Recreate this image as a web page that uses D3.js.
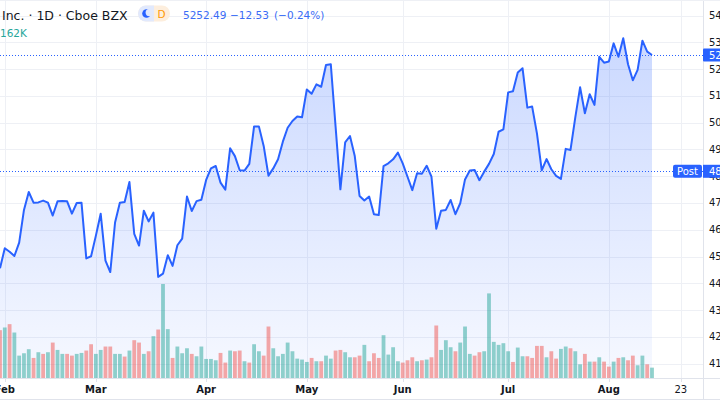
<!DOCTYPE html>
<html>
<head>
<meta charset="utf-8">
<script src="https://cdn.jsdelivr.net/npm/d3@7"></script>
<style>
  html, body { margin: 0; padding: 0; background: #ffffff; overflow: hidden; }
  svg { display: block; font-family: "DejaVu Sans", sans-serif; }
</style>
</head>
<body>
<svg id="chart" width="720" height="400"></svg>
<script>
// ---- Data ----
const closes = [
  4456,4531,4518,4502,4552,4674,4741,4701,4702,4709,
  4701,4653,4706,4707,4706,4660,4700,4701,4493,4501,
  4578,4660,4485,4442,4627,4701,4704,4778,4585,4541,
  4671,4631,4664,4424,4436,4505,4465,4542,4567,4724,
  4670,4707,4712,4786,4829,4838,4776,4750,4904,4875,
  4822,4821,4846,4986,4986,4913,4802,4829,4863,4929,
  4981,5006,5023,5020,5124,5108,5143,5134,5215,5218,
  4985,4751,4926,4950,4875,4726,4709,4724,4658,4655,
  4838,4848,4863,4888,4848,4798,4748,4811,4809,4839,
  4798,4604,4671,4674,4711,4658,4699,4788,4821,4823,
  4785,4817,4846,4883,4966,4975,5113,5117,5187,5203,
  5056,5060,4960,4822,4864,4826,4801,4790,4902,4898,
  5020,5132,5035,5106,5066,5246,5224,5228,5296,5246,
  5315,5218,5158,5197,5306,5265,5252.49
];

const volumes = [ // thousands
  748,790,842,711,350,387,450,314,403,377,
  403,554,439,377,377,350,377,392,429,528,
  377,439,492,492,377,377,335,429,591,554,
  377,418,654,758,1470,764,314,492,387,465,
  377,340,492,298,298,277,392,241,429,418,
  429,262,241,528,418,350,805,465,340,377,
  554,418,303,288,251,314,262,262,350,303,
  429,439,403,324,324,350,518,262,387,314,
  669,366,481,262,241,277,324,262,277,288,
  324,821,439,591,481,418,554,805,377,350,
  403,418,1323,565,518,544,418,251,476,340,
  340,314,502,502,324,418,303,455,492,465,
  418,214,377,256,256,324,256,178,256,314,
  324,277,350,199,350,214,162
];

const volumeDirection = [
  "d","u","d","u","u","u","u","d","u","d",
  "u","d","u","u","d","d","u","u","d","d",
  "u","u","d","d","u","u","d","u","d","d",
  "u","d","u","d","u","u","d","u","u","u",
  "d","u","u","u","u","u","d","d","u","d",
  "d","u","d","u","u","d","d","u","u","u",
  "u","u","u","u","u","d","u","d","u","u",
  "d","d","u","u","d","d","u","d","d","d",
  "u","u","u","u","d","d","d","u","d","u",
  "d","d","u","u","u","d","u","u","u","d",
  "d","u","u","u","u","u","u","d","u","u",
  "d","d","d","d","u","d","d","u","u","d",
  "u","u","d","u","d","u","d","d","u","d",
  "u","d","d","u","u","d","u"
];

const timeTickLabels = ["Feb","Mar","Apr","May","Jun","Jul","Aug","23"];
const timeTickIndex  = [1, 20, 43, 64, 84, 106, 127, 142];
const timeTickBold   = [true,true,true,true,true,true,true,false];

const priceTicks = [4100,4200,4300,4400,4500,4600,4700,4800,4900,5000,5100,5200,5300,5400];

const lastPrice = 5252.49;
const postPrice = 4818.30;
const headerTitle = "Inc. · 1D · Cboe BZX";
const headerQuote = ["5252.49", "−12.53", "(−0.24%)"];
const headerVolume = "162K";

// ---- Layout ----
const W = 720, H = 400;
const plotRight = 703, plotBottom = 378;

const svg = d3.select("#chart");

const x = d3.scaleLinear().domain([0, closes.length - 1]).range([0, 652]);
const y = d3.scaleLinear().domain([4400, 5300]).range([283.3, 42.3]);
const yVol = d3.scaleLinear().domain([0, d3.max(volumes)]).range([plotBottom, 284]);

svg.append("rect").attr("width", W).attr("height", H).attr("fill", "#ffffff");

const defs = svg.append("defs");
const grad = defs.append("linearGradient").attr("id", "areaGrad")
  .attr("gradientUnits", "userSpaceOnUse")
  .attr("x1", 0).attr("x2", 0).attr("y1", 30).attr("y2", plotBottom);
grad.append("stop").attr("offset", 0).attr("stop-color", "rgba(41,98,255,0.25)");
grad.append("stop").attr("offset", 1).attr("stop-color", "rgba(41,98,255,0.04)");

const clip = defs.append("clipPath").attr("id", "plotClip");
clip.append("rect").attr("x", 0).attr("y", 0).attr("width", plotRight).attr("height", plotBottom);

// Grid
const grid = svg.append("g").attr("stroke", "#eef0f5").attr("stroke-width", 1);
grid.selectAll("line.h").data(priceTicks).join("line")
  .attr("x1", 0).attr("x2", plotRight)
  .attr("y1", d => Math.round(y(d)) + 0.5).attr("y2", d => Math.round(y(d)) + 0.5);
grid.selectAll("line.v").data(timeTickIndex).join("line")
  .attr("x1", d => Math.round(x(d)) + 0.5).attr("x2", d => Math.round(x(d)) + 0.5)
  .attr("y1", 0).attr("y2", plotBottom);

const plot = svg.append("g").attr("clip-path", "url(#plotClip)");

// Area
const area = d3.area().x((d, i) => x(i)).y0(plotBottom).y1(d => y(d));
plot.append("path").datum(closes).attr("d", area).attr("fill", "url(#areaGrad)");

// Volume
const bw = 3.8;
plot.selectAll("rect.vol").data(volumes).join("rect")
  .attr("x", (d, i) => x(i) - bw / 2)
  .attr("width", bw)
  .attr("y", d => yVol(d))
  .attr("height", d => plotBottom - yVol(d))
  .attr("fill", (d, i) => volumeDirection[i] === "u" ? "rgba(38,166,154,0.5)" : "rgba(239,83,80,0.5)");

// Line
const line = d3.line().x((d, i) => x(i)).y(d => y(d));
plot.append("path").datum(closes).attr("d", line)
  .attr("fill", "none").attr("stroke", "#2962FF").attr("stroke-width", 2)
  .attr("stroke-linejoin", "round");

// Dotted price lines
[lastPrice, postPrice].forEach(p => {
  svg.append("line")
    .attr("x1", 0).attr("x2", plotRight)
    .attr("y1", Math.round(y(p)) + 0.5).attr("y2", Math.round(y(p)) + 0.5)
    .attr("stroke", "#2962FF").attr("stroke-width", 1).attr("stroke-dasharray", "1,2");
});

// Borders
svg.append("line").attr("x1", plotRight + 0.5).attr("x2", plotRight + 0.5).attr("y1", 0).attr("y2", H)
  .attr("stroke", "#e0e3eb");
svg.append("line").attr("x1", 0).attr("x2", W).attr("y1", plotBottom + 0.5).attr("y2", plotBottom + 0.5)
  .attr("stroke", "#e0e3eb");
svg.append("line").attr("x1", 0).attr("x2", W).attr("y1", H - 0.5).attr("y2", H - 0.5)
  .attr("stroke", "#e0e3eb");
svg.append("line").attr("x1", 0).attr("x2", W).attr("y1", 0.5).attr("y2", 0.5)
  .attr("stroke", "#eef0f5");

// Price axis labels
svg.append("g").selectAll("text").data(priceTicks).join("text")
  .attr("x", 709).attr("y", d => y(d)).attr("dy", "0.35em")
  .attr("font-size", 10).attr("fill", "#131722")
  .text(d => d3.format(".2f")(d));

// Last price label
svg.append("rect").attr("x", plotRight).attr("y", y(lastPrice) - 6.5).attr("width", 20).attr("height", 13)
  .attr("rx", 1).attr("fill", "#2962FF");
svg.append("text").attr("x", 709).attr("y", y(lastPrice)).attr("dy", "0.35em")
  .attr("font-size", 10).attr("fill", "#ffffff").text(d3.format(".2f")(lastPrice));

// Post label
svg.append("rect").attr("x", 673).attr("y", y(postPrice) - 6.5).attr("width", 29).attr("height", 13)
  .attr("rx", 2).attr("fill", "#2962FF");
svg.append("text").attr("x", 687.5).attr("y", y(postPrice)).attr("dy", "0.35em")
  .attr("text-anchor", "middle").attr("font-size", 10).attr("fill", "#ffffff").text("Post");
svg.append("rect").attr("x", plotRight).attr("y", y(postPrice) - 6.5).attr("width", 20).attr("height", 13)
  .attr("fill", "#2962FF");
svg.append("text").attr("x", 709).attr("y", y(postPrice)).attr("dy", "0.35em")
  .attr("font-size", 10).attr("fill", "#ffffff").text(d3.format(".2f")(postPrice));

// Time axis
const tAxis = svg.append("g");
tAxis.selectAll("line").data(timeTickIndex).join("line")
  .attr("x1", d => Math.round(x(d)) + 0.5).attr("x2", d => Math.round(x(d)) + 0.5)
  .attr("y1", plotBottom).attr("y2", plotBottom + 4).attr("stroke", "#e0e3eb");
tAxis.selectAll("text").data(timeTickLabels).join("text")
  .attr("x", (d, i) => x(timeTickIndex[i]))
  .attr("y", 392.5)
  .attr("text-anchor", "middle")
  .attr("font-size", 10)
  .attr("font-weight", (d, i) => timeTickBold[i] ? "bold" : "normal")
  .attr("fill", "#131722")
  .text(d => d);

// Header
svg.append("text").attr("x", 2).attr("y", 19.5).attr("font-size", 12.5).attr("fill", "#131722")
  .text(headerTitle);

// Badge
const badge = svg.append("g");
badge.append("rect").attr("x", 138).attr("y", 5.5).attr("width", 32).attr("height", 16).attr("rx", 8)
  .attr("fill", "#fdeedd");
badge.append("path").attr("d", "M154,5.5 H146 A8,8 0 0 0 146,21.5 H154 Z").attr("fill", "#e1e9fd");
badge.append("circle").attr("cx", 146.5).attr("cy", 13.5).attr("r", 4.3).attr("fill", "#2962FF");
badge.append("circle").attr("cx", 149.2).attr("cy", 12.6).attr("r", 3.6).attr("fill", "#e1e9fd");
badge.append("text").attr("x", 161.5).attr("y", 17.5).attr("text-anchor", "middle")
  .attr("font-size", 10.5).attr("fill", "#ff9800").text("D");

const quoteX = [183, 230, 274];
svg.append("g").selectAll("text").data(headerQuote).join("text")
  .attr("x", (d, i) => quoteX[i]).attr("y", 18.5)
  .attr("font-size", 10.5).attr("fill", "#3a6cf6")
  .text(d => d);

svg.append("text").attr("x", 0).attr("y", 36.5).attr("font-size", 10.5).attr("fill", "#26a69a")
  .text(headerVolume);
</script>
</body>
</html>
